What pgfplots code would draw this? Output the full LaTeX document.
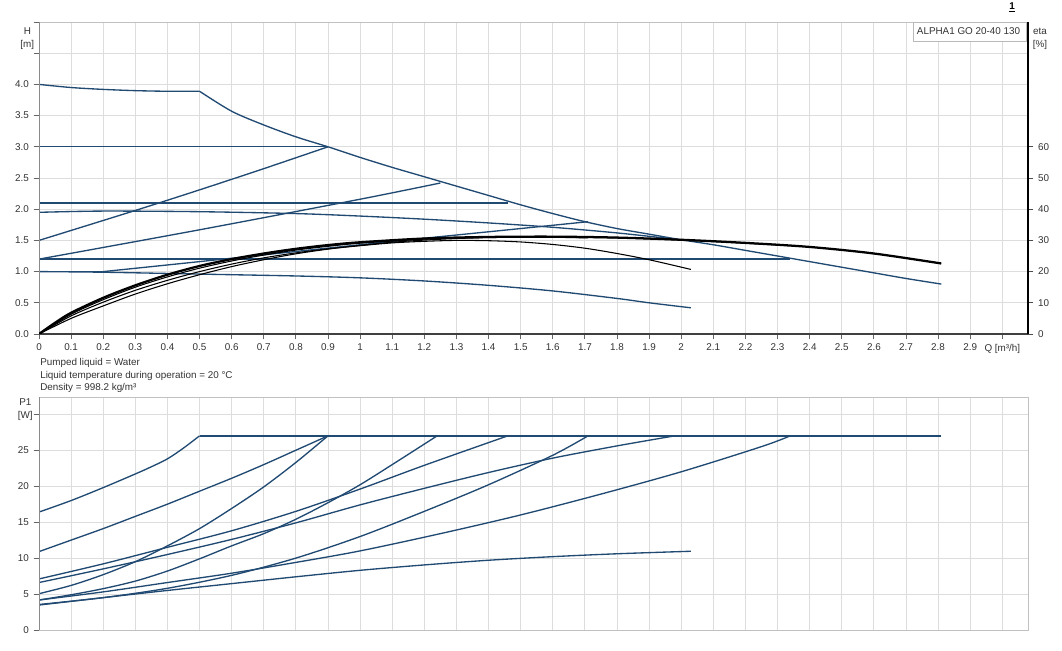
\documentclass[border=0pt]{standalone}
\usepackage{fontspec}
\setmainfont{Liberation Sans}
\usepackage{pgfplots}
\pgfplotsset{compat=1.18}
\definecolor{crv}{HTML}{214A73}
\definecolor{grd}{HTML}{DDDDDD}
\definecolor{axg}{HTML}{8A8A8A}
\definecolor{txt}{HTML}{333333}
\newcommand{\fs}{\fontsize{7.4}{9.6}\selectfont}
\pgfplotsset{
  base/.style={
    scale only axis, width=741.75pt,
    xmin=0, xmax=3.08,
    xtick={0,0.1,0.2,0.3,0.4,0.5,0.6,0.7,0.8,0.9,1,1.1,1.2,1.3,1.4,1.5,1.6,1.7,1.8,1.9,2,2.1,2.2,2.3,2.4,2.5,2.6,2.7,2.8,2.9,3},
    grid=major, major grid style={grd, line width=0.6pt},
    axis line style={draw=grd!70!gray, line width=0.6pt},
    tick align=outside, major tick length=4pt,
    tick style={black!60, line width=0.6pt},
    xtick pos=bottom, ytick pos=left,
    tick label style={font=\fs, text=txt},
    /pgf/number format/assume math mode=true,
  },
  bl/.style={crv, line width=1pt},
  bs/.style={crv, line width=1pt, smooth, tension=0.5},
  ks/.style={black, line width=0.8pt, smooth, tension=0.5},
}
\begin{document}
\begin{tikzpicture}
\path[use as bounding box] (0,0) rectangle (796.5pt,487.5pt);
% ---------- top: head ----------
\begin{axis}[base, at={(29.25pt,237pt)}, anchor=south west, height=234pt,
  ymin=0, ymax=5,
  ytick={0,0.5,1,1.5,2,2.5,3,3.5,4,4.5,5},
  yticklabels={0.0,0.5,1.0,1.5,2.0,2.5,3.0,3.5,4.0,,},
  xticklabels={0,0.1,0.2,0.3,0.4,0.5,0.6,0.7,0.8,0.9,1,1.1,1.2,1.3,1.4,1.5,1.6,1.7,1.8,1.9,2,2.1,2.2,2.3,2.4,2.5,2.6,2.7,2.8,2.9,{Q [m³/h]}},
]
% max curve
\addplot[bs] coordinates {(0,4.0)(0.1,3.95)(0.2,3.92)(0.3,3.9)(0.4,3.89)(0.5,3.89)};
\addplot[bs] coordinates {(0.5,3.89)(0.6,3.57)(0.7,3.35)(0.8,3.16)(0.9,3.0)(1.0,2.83)(1.1,2.67)(1.2,2.52)(1.3,2.37)(1.4,2.22)(1.5,2.07)(1.6,1.93)(1.7,1.8)(1.8,1.69)(1.9,1.6)(2.0,1.51)(2.1,1.43)(2.2,1.34)(2.3,1.25)(2.4,1.16)(2.5,1.07)(2.6,0.98)(2.7,0.89)(2.81,0.8)};
% constant pressure
\addplot[bl] coordinates {(0,3.0)(0.9,3.0)};
\addplot[bl] coordinates {(0,2.1)(1.46,2.1)};
\addplot[bl] coordinates {(0,1.2)(2.34,1.2)};
% proportional pressure
\addplot[bs] coordinates {(0,1.5)(0.3,1.98)(0.5,2.31)(0.7,2.65)(0.9,3.0)};
\addplot[bs] coordinates {(0,1.2)(0.5,1.67)(1.0,2.16)(1.25,2.42)};
\addplot[bl] coordinates {(0,1.0)(0.2,1.0)};
\addplot[bs] coordinates {(0.2,1.0)(0.5,1.16)(1.0,1.43)(1.5,1.69)(1.71,1.8)};
% constant curves
\addplot[bs] coordinates {(0,1.95)(0.2,1.97)(0.5,1.96)(0.8,1.93)(1.0,1.89)(1.2,1.84)(1.4,1.78)(1.6,1.71)(1.8,1.62)(1.98,1.52)};
\addplot[bs] coordinates {(0,1.0)(0.2,0.99)(0.5,0.96)(0.8,0.93)(1.0,0.9)(1.2,0.85)(1.4,0.78)(1.6,0.69)(1.8,0.57)(1.9,0.5)(2.03,0.42)};
\draw[axg, line width=1.2pt] (rel axis cs:0,0) -- (rel axis cs:0,1);
\draw[black!75, line width=0.8pt] (rel axis cs:0,0) -- (rel axis cs:1,0);
\end{axis}
% ---------- top: efficiency ----------
\begin{axis}[scale only axis, width=741.75pt, height=234pt,
  at={(29.25pt,237pt)}, anchor=south west,
  xmin=0, xmax=3.08, ymin=0, ymax=100,
  axis x line=none, axis y line*=right,
  axis line style={black, line width=1pt, -},
  ytick={0,10,20,30,40,50,60}, yticklabels={0,10,20,30,40,50,60},
  tick align=outside, major tick length=4pt,
  tick style={black!70, line width=0.6pt},
  tick label style={font=\fs, text=txt},
]
\addplot[black, line width=1.7pt, smooth, tension=0.5] coordinates {(0,0)(0.05,3.6)(0.1,6.8)(0.2,11.6)(0.3,15.6)(0.4,19.0)(0.5,21.8)(0.6,24.0)(0.7,25.8)(0.8,27.3)(0.9,28.5)(1.0,29.4)(1.2,30.6)(1.4,31.1)(1.6,31.2)(1.8,30.9)(2.0,30.2)(2.2,29.2)(2.4,27.9)(2.6,25.8)(2.81,22.6)};
\addplot[ks] coordinates {(0,0)(0.1,5.8)(0.2,10.2)(0.3,14.0)(0.4,17.2)(0.5,20.0)(0.6,22.4)(0.7,24.4)(0.8,26.0)(0.9,27.3)(1.0,28.3)(1.1,29.2)(1.2,29.7)(1.3,30.0)(1.4,29.9)(1.5,29.5)(1.6,28.7)(1.7,27.5)(1.8,25.8)(1.9,23.8)(2.03,20.7)};
\addplot[ks] coordinates {(0,0)(0.1,5.0)(0.2,9.0)(0.3,12.8)(0.4,16.1)(0.5,19.0)(0.6,21.6)(0.7,23.8)(0.8,25.7)(0.9,27.2)(1.0,28.4)(1.1,29.4)(1.2,30.1)(1.3,30.6)(1.4,30.9)(1.5,31.0)(1.6,31.0)(1.71,30.8)};
\addplot[ks] coordinates {(0,0)(0.1,6.3)(0.2,11.0)(0.3,15.0)(0.4,18.3)(0.5,21.1)(0.6,23.4)(0.7,25.3)(0.8,26.9)(0.9,28.1)(1.0,29.1)(1.2,30.4)(1.4,31.0)(1.6,31.1)(1.8,30.8)(2.0,30.1)(2.2,29.1)(2.34,28.3)};
\end{axis}
% ---------- bottom: power ----------
\begin{axis}[base, at={(29.25pt,15pt)}, anchor=south west, height=174.75pt,
  ymin=0, ymax=32.4,
  ytick={0,5,10,15,20,25,30}, yticklabels={0,5,10,15,20,25,},
  xticklabels={}, major x tick style={draw=none},
]
\addplot[bs] coordinates {(0,16.4)(0.1,18.0)(0.2,19.8)(0.3,21.7)(0.35,22.7)(0.4,23.8)(0.45,25.3)(0.5,27.0)};
\addplot[crv, line width=1.8pt] coordinates {(0.5,27.0)(2.81,27.0)};
\addplot[bs] coordinates {(0,10.9)(0.1,12.5)(0.2,14.1)(0.3,15.8)(0.4,17.5)(0.5,19.3)(0.6,21.1)(0.7,23.0)(0.8,25.0)(0.9,27.0)};
\addplot[bs] coordinates {(0,5.05)(0.1,6.2)(0.2,7.7)(0.3,9.5)(0.4,11.7)(0.5,14.1)(0.6,16.9)(0.7,19.9)(0.8,23.3)(0.9,27.0)};
\addplot[bs] coordinates {(0,7.1)(0.2,9.2)(0.4,11.5)(0.6,13.8)(0.8,16.5)(1.0,19.6)(1.2,22.9)(1.46,27.0)};
\addplot[bs] coordinates {(0,6.6)(0.2,8.5)(0.4,10.5)(0.6,12.6)(0.8,14.9)(1.0,17.4)(1.2,19.7)(1.4,21.9)(1.6,23.9)(1.8,25.6)(1.98,27.0)};
\addplot[bs] coordinates {(0,4.17)(0.1,4.9)(0.2,5.75)(0.3,6.8)(0.4,8.2)(0.5,9.9)(0.6,11.7)(0.7,13.4)(0.8,15.4)(0.9,17.7)(1.0,20.2)(1.1,23.0)(1.24,27.0)};
\addplot[bs] coordinates {(0,4.17)(0.2,5.3)(0.4,6.6)(0.6,7.9)(0.8,9.4)(1.0,11.0)(1.25,13.4)(1.5,16.0)(1.75,18.9)(2.0,22.0)(2.25,25.5)(2.34,27.0)};
\addplot[bs] coordinates {(0,3.55)(0.2,4.5)(0.4,5.8)(0.6,7.6)(0.8,10.0)(1.0,13.0)(1.2,16.5)(1.4,20.2)(1.6,24.3)(1.71,27.0)};
\addplot[bs] coordinates {(0,3.47)(0.2,4.5)(0.4,5.5)(0.6,6.45)(0.8,7.4)(1.0,8.3)(1.2,9.05)(1.4,9.7)(1.6,10.2)(1.8,10.6)(2.03,10.95)};
\draw[axg, line width=1.2pt] (rel axis cs:0,0) -- (rel axis cs:0,1);
\end{axis}
% ---------- texts ----------
\node[font=\fs, text=txt, align=center, anchor=north] at (20.5pt,470pt) {H\\{[m]}};
\node[font=\fs, text=txt, align=center, anchor=north] at (780pt,470pt) {eta\\{[\%]}};
\node[font=\fs, text=txt, align=center, anchor=north] at (19pt,192pt) {P1\\{[W]}};
\draw[gray!55, fill=white, line width=0.6pt] (684.75pt,456.75pt) rectangle (769.5pt,471pt);
\node[font=\fs, text=txt, anchor=west, inner sep=0pt] at (687.5pt,464pt) {ALPHA1 GO 20-40 130};
\node[font=\fs, text=txt, anchor=west, inner sep=0pt] at (30pt,215.25pt) {Pumped liquid = Water};
\node[font=\fs, text=txt, anchor=west, inner sep=0pt] at (30pt,205.75pt) {Liquid temperature during operation = 20 °C};
\node[font=\fs, text=txt, anchor=west, inner sep=0pt] at (30pt,196.75pt) {Density = 998.2 kg/m³};
\node[font=\fs\bfseries, text=black, inner sep=0pt] at (759pt,482pt) {\underline{1}};
\end{tikzpicture}
\end{document}
